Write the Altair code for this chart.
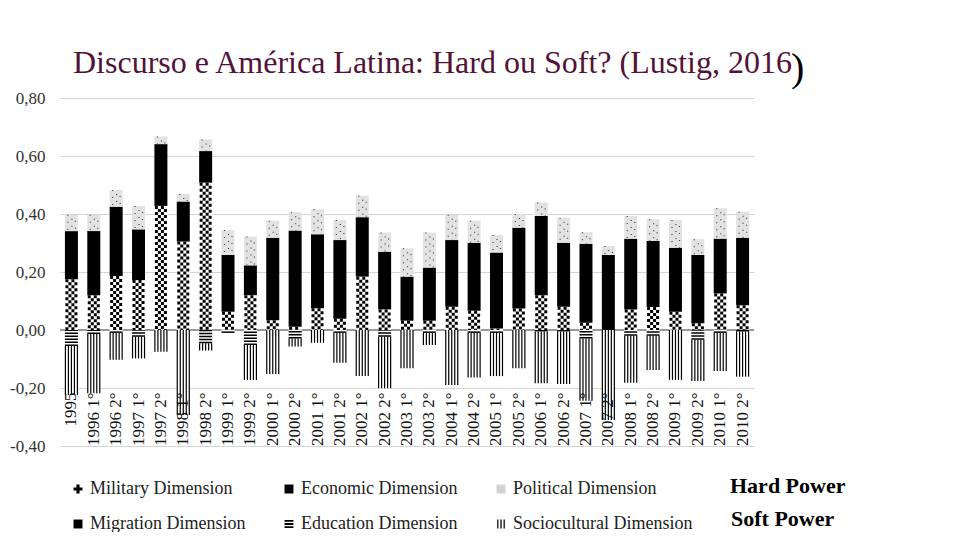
import altair as alt
import pandas as pd

categories = ["1995", "1996 1°", "1996 2°", "1997 1°", "1997 2°", "1998 1°", "1998 2°",
              "1999 1°", "1999 2°", "2000 1°", "2000 2°", "2001 1°", "2001 2°", "2002 1°",
              "2002 2°", "2003 1°", "2003 2°", "2004 1°", "2004 2°", "2005 1°", "2005 2°",
              "2006 1°", "2006 2°", "2007 1°", "2007 2°", "2008 1°", "2008 2°", "2009 1°",
              "2009 2°", "2010 1°", "2010 2°"]

military = [0.175, 0.120, 0.186, 0.172, 0.428, 0.305, 0.508, 0.063, 0.120, 0.034, 0.011,
            0.075, 0.039, 0.184, 0.071, 0.032, 0.032, 0.080, 0.066, 0.005, 0.074, 0.120,
            0.080, 0.025, 0.000, 0.071, 0.079, 0.063, 0.023, 0.126, 0.085]
economic = [0.166, 0.221, 0.239, 0.175, 0.213, 0.138, 0.109, 0.196, 0.103, 0.284, 0.332,
            0.255, 0.271, 0.205, 0.199, 0.152, 0.183, 0.230, 0.235, 0.262, 0.279, 0.273,
            0.221, 0.272, 0.259, 0.244, 0.228, 0.221, 0.236, 0.189, 0.233]
political = [0.056, 0.056, 0.058, 0.081, 0.026, 0.026, 0.040, 0.086, 0.099, 0.059, 0.063,
             0.086, 0.069, 0.074, 0.066, 0.098, 0.121, 0.087, 0.076, 0.061, 0.047, 0.047,
             0.086, 0.040, 0.031, 0.078, 0.075, 0.095, 0.054, 0.105, 0.090]
migration = [0.0, 0.0, 0.0, 0.0, 0.0, 0.0, 0.0, 0.0, 0.0, 0.0, 0.0,
             0.0, 0.0, 0.0, 0.0, 0.0, 0.0, 0.0, 0.0, 0.0, 0.0, 0.0,
             0.0, 0.0, 0.0, 0.0, 0.0, 0.0, 0.0, 0.0, 0.0]
education = [-0.055, -0.014, -0.010, -0.023, 0.0, 0.0, -0.046, -0.010, -0.052, 0.0, -0.029,
             0.0, -0.010, 0.0, -0.023, 0.0, -0.010, 0.0, -0.010, -0.010, 0.0, -0.005,
             -0.005, -0.029, 0.0, -0.020, -0.020, 0.0, -0.034, -0.010, -0.005]
sociocultural = [-0.169, -0.204, -0.093, -0.075, -0.075, -0.293, -0.025, 0.0, -0.120, -0.152,
                 -0.028, -0.044, -0.103, -0.159, -0.178, -0.132, -0.042, -0.190, -0.154,
                 -0.149, -0.132, -0.179, -0.181, -0.215, -0.310, -0.162, -0.118, -0.172,
                 -0.142, -0.131, -0.156]

dims = ["Military Dimension", "Economic Dimension", "Political Dimension",
        "Migration Dimension", "Education Dimension", "Sociocultural Dimension"]
bar_fills = ["#ffffff", "#000000", "#e2e2e2", "#111111", "#ffffff", "#ffffff"]
legend_fills = ["#000000", "#000000", "#d2d2d2", "#000000", "#000000", "#333333"]
legend_shapes = [
    "M-0.35,-1H0.35V-0.35H1V0.35H0.35V1H-0.35V0.35H-1V-0.35H-0.35Z",
    "square",
    "square",
    "square",
    "M-1,-0.9H1V-0.5H-1Z M-1,-0.2H1V0.2H-1Z M-1,0.5H1V0.9H-1Z",
    "M-0.9,-1H-0.55V1H-0.9Z M-0.18,-1H0.18V1H-0.18Z M0.55,-1H0.9V1H0.55Z",
]

rows = []
for i, c in enumerate(categories):
    pos = 0.0
    for d, vals in zip(dims[:3], [military, economic, political]):
        v = vals[i]
        rows.append(dict(cat=c, dim=d, y0=pos, y1=pos + v))
        pos += v
    neg = 0.0
    for d, vals in zip(dims[3:], [migration, education, sociocultural]):
        v = vals[i]
        rows.append(dict(cat=c, dim=d, y0=neg, y1=neg + v))
        neg += v
df = pd.DataFrame(rows)

SERIF = "Liberation Serif"

xaxis = alt.Axis(orient="bottom", offset=-56, domain=False, ticks=False, tickSize=0,
                 labelAngle=270, labelAlign="right", labelBaseline="middle",
                 labelPadding=2, labelFont=SERIF, labelFontSize=17, labelColor="#111",
                 labelOverlap=False, title=None, zindex=1, grid=False)
yaxis = alt.Axis(values=[-0.4, -0.2, 0, 0.2, 0.4, 0.6, 0.8],
                 labelExpr="replace(replace(format(datum.value, '.2f'), '.', ','), '\u2212', '-')",
                 grid=True, gridColor="#d4d4d4", gridWidth=1, domain=False, ticks=False,
                 tickSize=0, labelPadding=15, labelFont=SERIF, labelFontSize=17,
                 labelColor="#333", title=None)

yscale = alt.Scale(domain=[-0.4, 0.8], nice=False, zero=False)
X = alt.X("cat:N", sort=categories, scale=alt.Scale(paddingInner=0.42, paddingOuter=0.22), axis=xaxis)
Y = alt.Y("y1:Q", scale=yscale, axis=yaxis)
Y2 = alt.Y2("y0:Q")

base = alt.Chart(df)

zero = base.mark_rule(color="#9a9a9a", strokeWidth=1.5).encode(
    y=alt.YDatum(0, scale=yscale, axis=yaxis)
)

layers = [zero]
for d, f in zip(dims, bar_fills):
    layers.append(base.transform_filter(alt.datum.dim == d).mark_bar(size=13, fill=f).encode(
        x=X, y=Y, y2=Y2))

mil = base.transform_filter(alt.datum.dim == "Military Dimension")
for off, doff in [(-4.5, 0), (-1.5, 3), (1.5, 0), (4.5, 3)]:
    layers.append(mil.mark_rule(strokeWidth=3, strokeDash=[3, 3], strokeDashOffset=doff,
                                color="#000", xOffset=off).encode(x=X, y=Y, y2=Y2))

pol = base.transform_filter(alt.datum.dim == "Political Dimension")
for off, doff in [(-3.5, 0), (0.5, 3), (4.0, 1)]:
    layers.append(pol.mark_rule(strokeWidth=1.2, strokeDash=[1, 6], strokeDashOffset=doff,
                                color="#444", xOffset=off).encode(x=X, y=Y, y2=Y2))

edu = base.transform_filter(alt.datum.dim == "Education Dimension")
layers.append(edu.mark_rule(strokeWidth=13, strokeDash=[1.5, 1.5], color="#000").encode(x=X, y=Y, y2=Y2))

soc = base.transform_filter(alt.datum.dim == "Sociocultural Dimension")
for off in [-6, -3, 0, 3, 6]:
    layers.append(soc.mark_rule(strokeWidth=1.2, color="#000", xOffset=off).encode(x=X, y=Y, y2=Y2))

# legend carrier: points drawn off-canvas, only their legend is visible
legend = alt.Legend(orient="none", legendX=9, legendY=382, columns=3, direction="horizontal",
                    title=None, symbolSize=80, labelFont=SERIF, labelFontSize=18,
                    labelColor="#222", labelOffset=3, columnPadding=34, rowPadding=17,
                    padding=0, labelLimit=300, symbolOpacity=1, symbolStrokeWidth=0)
legend_df = pd.DataFrame({"dim": dims})
leg = alt.Chart(legend_df).mark_point(filled=True, size=80, opacity=1).encode(
    x=alt.value(-2000), y=alt.value(-2000),
    fill=alt.Fill("dim:N", scale=alt.Scale(domain=dims, range=legend_fills), legend=legend),
    shape=alt.Shape("dim:N", scale=alt.Scale(domain=dims, range=legend_shapes), legend=legend),
)
layers.append(leg)


def label(text, x, y, size, bold=False, color="#000"):
    return alt.Chart(alt.Data(values=[{}])).mark_text(
        text=text, align="left", baseline="alphabetic", font=SERIF, fontSize=size,
        fontWeight="bold" if bold else "normal", color=color
    ).encode(x=alt.value(x), y=alt.value(y))


layers.append(label("Discurso e América Latina: Hard ou Soft? (Lustig, 2016", 13, -25, 32, color="#521337"))
layers.append(label(")", 731, -17, 40, color="#000"))
layers.append(label("Hard Power", 670, 395, 22, bold=True))
layers.append(label("Soft Power", 671, 428, 22, bold=True))

chart = alt.layer(*layers).properties(
    width=694, height=348,
    autosize=alt.AutoSizeParams(type="none"),
    padding={"left": 52, "top": 90, "right": 190, "bottom": 86},
    background="white",
).configure_view(stroke=None).configure_axis(labelFont=SERIF)

chart.save("out.html", embed_options={"renderer": "svg", "actions": False})
